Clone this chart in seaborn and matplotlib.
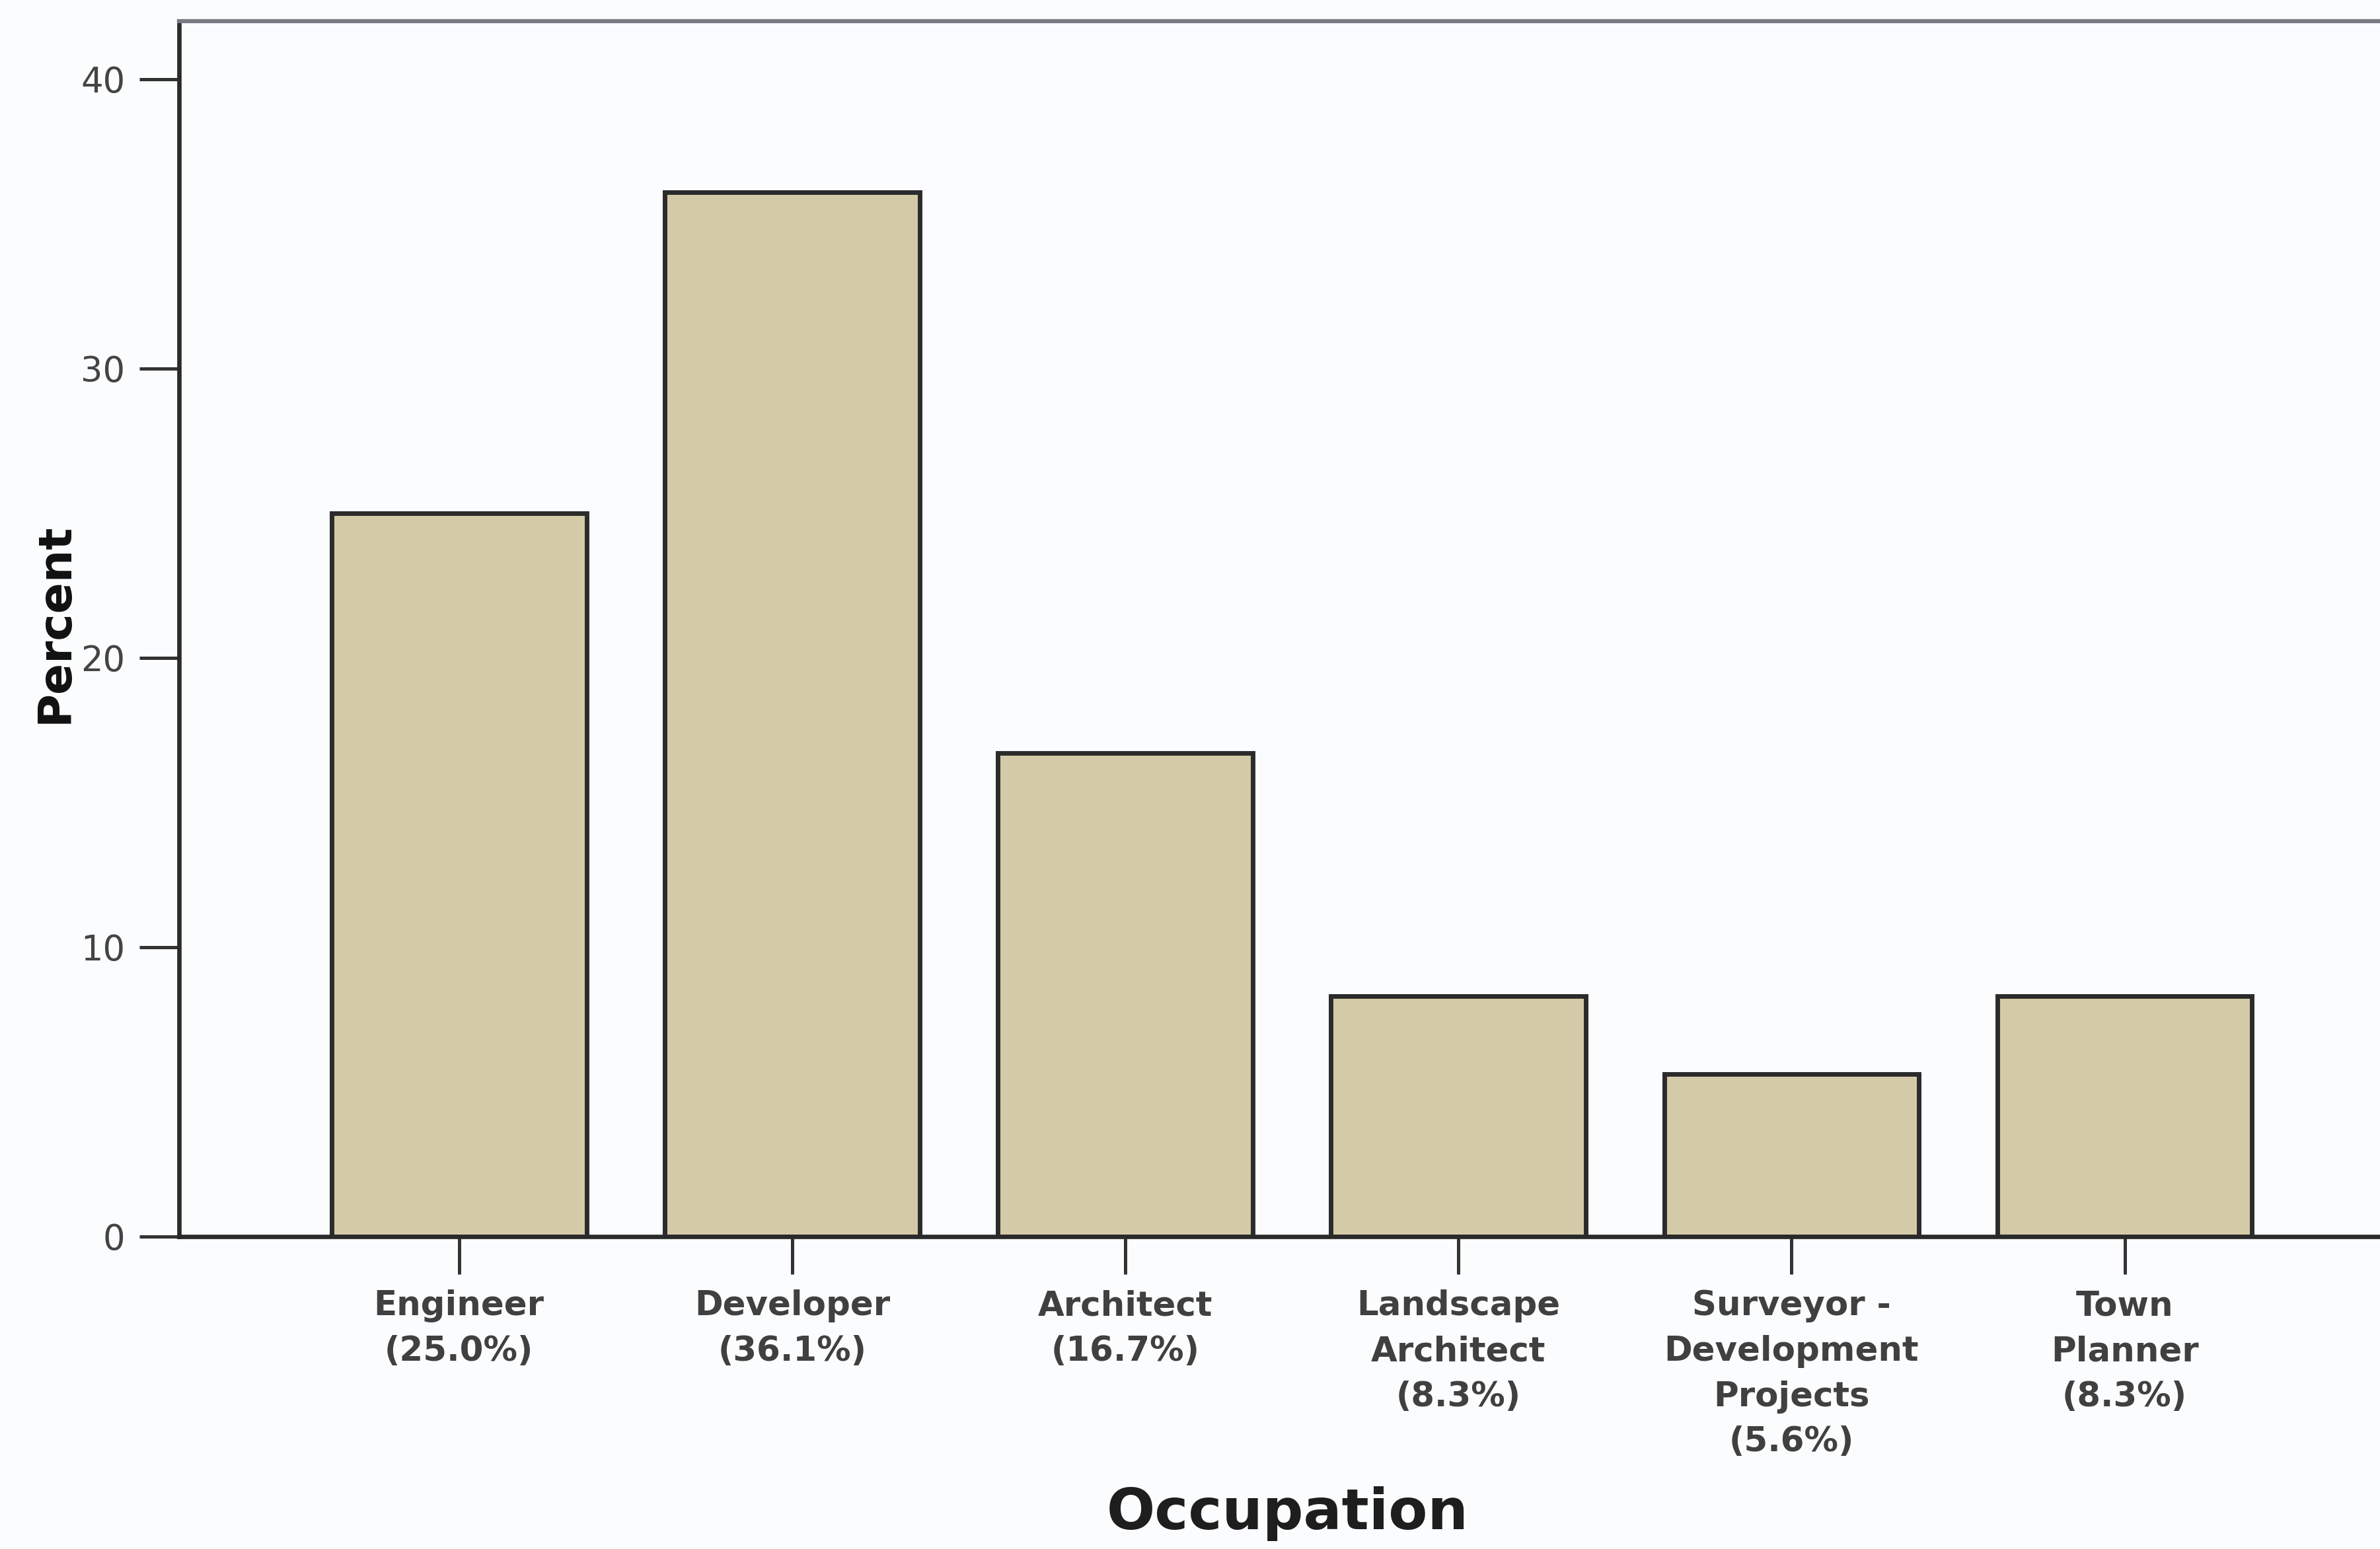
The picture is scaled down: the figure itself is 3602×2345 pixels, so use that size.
import matplotlib
matplotlib.use("Agg")
import matplotlib.pyplot as plt
import seaborn as sns
import pandas as pd

# Occupation of respondents (percent of sample)
occupations = [
    "Engineer",
    "Developer",
    "Architect",
    "Landscape\nArchitect",
    "Surveyor -\nDevelopment\nProjects",
    "Town\nPlanner",
]
percent = [25.0, 36.1, 16.7, 8.3, 5.6, 8.3]
y_ticks = [0, 10, 20, 30, 40]

df = pd.DataFrame({"Occupation": occupations, "Percent": percent})
tick_labels = [f"{name}\n({p:.1f}%)" for name, p in zip(occupations, percent)]

sns.set_theme(style="white")
plt.rcParams["font.family"] = ["DejaVu Sans"]

bg = "#fbfcfd"
fig = plt.figure(figsize=(36.02, 23.45), dpi=100, facecolor=bg)
ax = fig.add_axes([0.0753, 0.2018, 0.935, 0.7845])
ax.set_facecolor(bg)

sns.barplot(
    data=df, x="Occupation", y="Percent", order=occupations,
    color="#d4caa8", saturation=1, width=0.765,
    edgecolor="#2b2b2b", linewidth=5, ax=ax,
)

ax.set_xlim(-0.84, 5.84)
ax.set_ylim(0, 42)
ax.set_yticks(y_ticks)
ax.set_yticklabels([str(t) for t in y_ticks], fontsize=38, color="#444444")
ax.set_xticks(range(len(occupations)))
ax.set_xticklabels(tick_labels, fontsize=37, color="#404040",
                   fontweight="bold", linespacing=1.48)

ax.tick_params(axis="y", left=True, length=43, width=3.6, color="#333333", pad=16)
ax.tick_params(axis="x", bottom=True, length=41, width=3.6, color="#333333", pad=17)

for side in ["left", "bottom"]:
    ax.spines[side].set_linewidth(4.8)
    ax.spines[side].set_color("#2a2a2a")
ax.spines["top"].set_linewidth(4.5)
ax.spines["top"].set_color("#777c84")
ax.spines["right"].set_visible(True)
ax.spines["right"].set_linewidth(4.5)
ax.spines["right"].set_color("#777c84")

ax.set_xlabel("Occupation", fontsize=62, fontweight="bold", color="#1e1e1e")
ax.xaxis.set_label_coords(0.498, -0.228)
ax.xaxis.label.set_va("center")
ax.set_ylabel("Percent", fontsize=50, fontweight="bold", color="#111111")
ax.yaxis.set_label_coords(-0.056, 0.505)
ax.yaxis.label.set_va("center")

fig.savefig("out.png", dpi=100, facecolor=bg)
